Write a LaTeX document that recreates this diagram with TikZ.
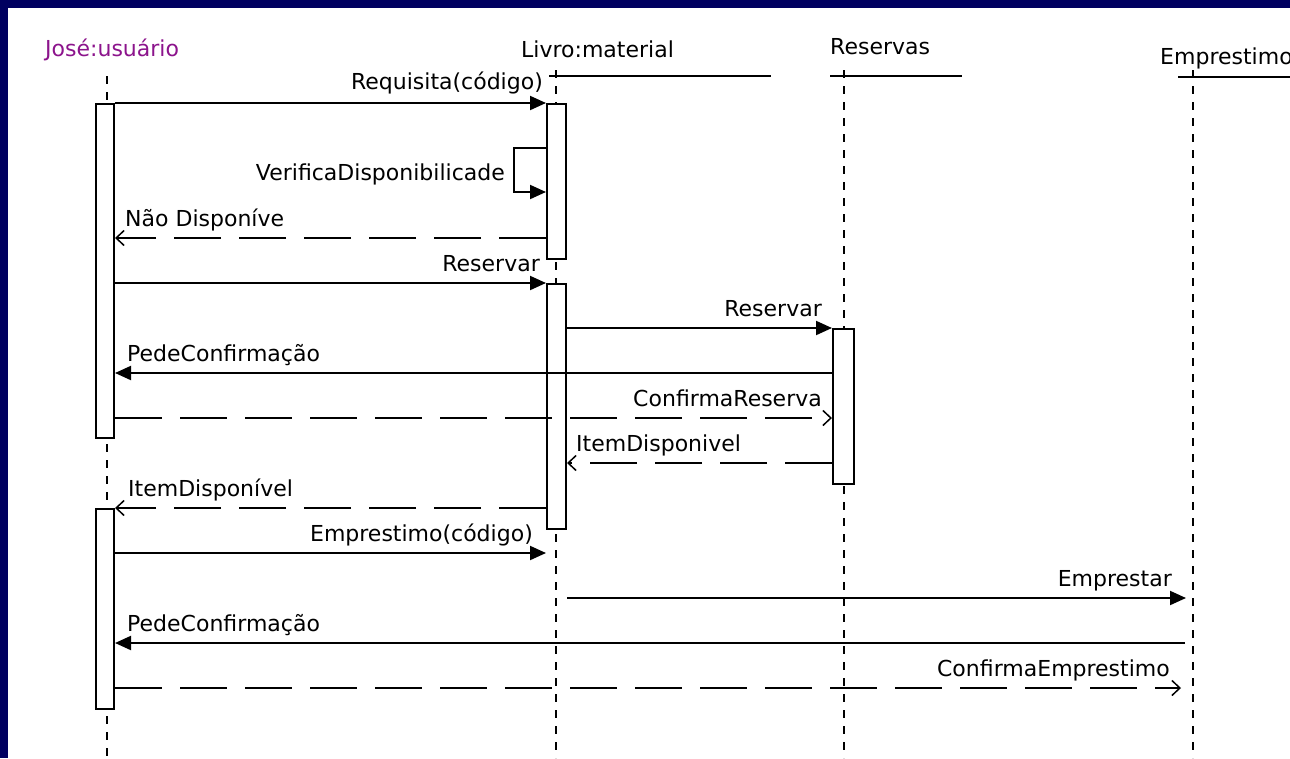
\documentclass[tikz,border=0pt]{standalone}
\usepackage{fontspec}
\setmainfont{DejaVu Sans}
\usetikzlibrary{arrows.meta}
\definecolor{navy}{RGB}{0,0,96}
\definecolor{objpurple}{RGB}{140,20,140}
\begin{document}
\begin{tikzpicture}[x=1pt,y=-1pt,
  every node/.style={font=\fontsize{22}{26}\selectfont, inner sep=0pt},
  lifeline/.style={line width=1.8pt, dash pattern=on 8pt off 8pt},
  actbox/.style={draw, fill=white, line width=2pt, minimum width=18pt, anchor=north},
  msg/.style={line width=2pt, -{Triangle[length=16pt,width=14pt]}},
  ret/.style={line width=2pt, dash pattern=on 47pt off 18pt, -{Straight Barb[length=8pt,width=15pt,line width=1.5pt]}},
  hdr/.style={line width=2pt}]
% background
\fill[navy] (0,0) rectangle (1290,758);
\fill[white] (8,8) rectangle (1290,758);
\useasboundingbox (0,0) rectangle (1290,758);
% headers
\node[anchor=base west, text=objpurple] (tJose) at (45,56) {José:usuário};
\node[anchor=base west] (tLivro) at (521,57) {Livro:material};
\node[anchor=base west] (tRes) at (830,54) {Reservas};
\node[anchor=base west] (tEmp) at (1160,64) {Emprestimo};
\coordinate (hL1) at (549,76); \coordinate (hL2) at (771,76);
\coordinate (hR1) at (830,76); \coordinate (hR2) at (962,76);
\coordinate (hE1) at (1178,77); \coordinate (hE2) at (1290,77);
\draw[hdr] (hL1) -- (hL2);
\draw[hdr] (hR1) -- (hR2);
\draw[hdr] (hE1) -- (hE2);
% lifelines
\coordinate (jTop) at (107,76); \coordinate (jBot) at (107,758);
\coordinate (lTop) at (556,70); \coordinate (lBot) at (556,758);
\coordinate (rTop) at (844,70); \coordinate (rBot) at (844,758);
\coordinate (eTop) at (1193,70); \coordinate (eBot) at (1193,758);
\draw[lifeline] (jTop) -- (jBot);
\draw[lifeline] (lTop) -- (lBot);
\draw[lifeline] (rTop) -- (rBot);
\draw[lifeline] (eTop) -- (eBot);
% activation boxes
\node[actbox, minimum height=334pt] (jose1) at (105,103) {};
\node[actbox, minimum height=200pt] (jose2) at (105,508) {};
\node[actbox, minimum width=19pt, minimum height=155pt] (livro1) at (556.5,103) {};
\node[actbox, minimum width=19pt, minimum height=245pt] (livro2) at (556.5,283) {};
\node[actbox, minimum width=21pt, minimum height=155pt] (res1) at (843.5,328) {};
% messages
\draw[msg] (jose1.north east) -- (livro1.north west);
\node[anchor=base east] (l1) at (543,89) {Requisita(código)};
\draw[msg] (livro1.west |- 0,148) -- ++(-32,0) -- ++(0,44) -- (livro1.west |- 0,192);
\node[anchor=base east] (l2) at (505,180) {VerificaDisponibilicade};
\draw[ret] (livro1.west |- 0,238) -- (jose1.east |- 0,238);
\node[anchor=base west] (l3) at (125,226) {Não Disponíve};
\draw[msg] (jose1.east |- 0,283) -- (livro2.north west);
\node[anchor=base east] (l4) at (540,271) {Reservar};
\draw[msg] (livro2.east |- res1.north) -- (res1.north west);
\node[anchor=base east] (l5) at (822,316) {Reservar};
\draw[msg] (res1.west |- 0,373) -- (jose1.east |- 0,373);
\node[anchor=base west] (l6) at (127,361) {PedeConfirmação};
\draw[ret] (jose1.east |- 0,418) -- (res1.west |- 0,418);
\node[anchor=base east] (l7) at (822,406) {ConfirmaReserva};
\draw[ret] (res1.west |- 0,463) -- (livro2.east |- 0,463);
\node[anchor=base west] (l8) at (576,451) {ItemDisponivel};
\draw[ret] (livro2.west |- jose2.north) -- (jose2.north east);
\node[anchor=base west] (l9) at (128,496) {ItemDisponível};
\draw[msg] (jose2.east |- 0,553) -- (livro2.west |- 0,553);
\node[anchor=base east] (l10) at (533,541) {Emprestimo(código)};
\draw[msg, shorten >=7pt] (livro2.east |- 0,598) -- (eTop |- 0,598);
\node[anchor=base east] (l11) at (1172,586) {Emprestar};
\draw[msg, shorten <=8pt] (eTop |- 0,643) -- (jose2.east |- 0,643);
\node[anchor=base west] (l12) at (127,631) {PedeConfirmação};
\draw[ret, shorten >=12pt] (jose2.east |- 0,688) -- (eTop |- 0,688);
\node[anchor=base east] (l13) at (1170,676) {ConfirmaEmprestimo};
\end{tikzpicture}
\end{document}
